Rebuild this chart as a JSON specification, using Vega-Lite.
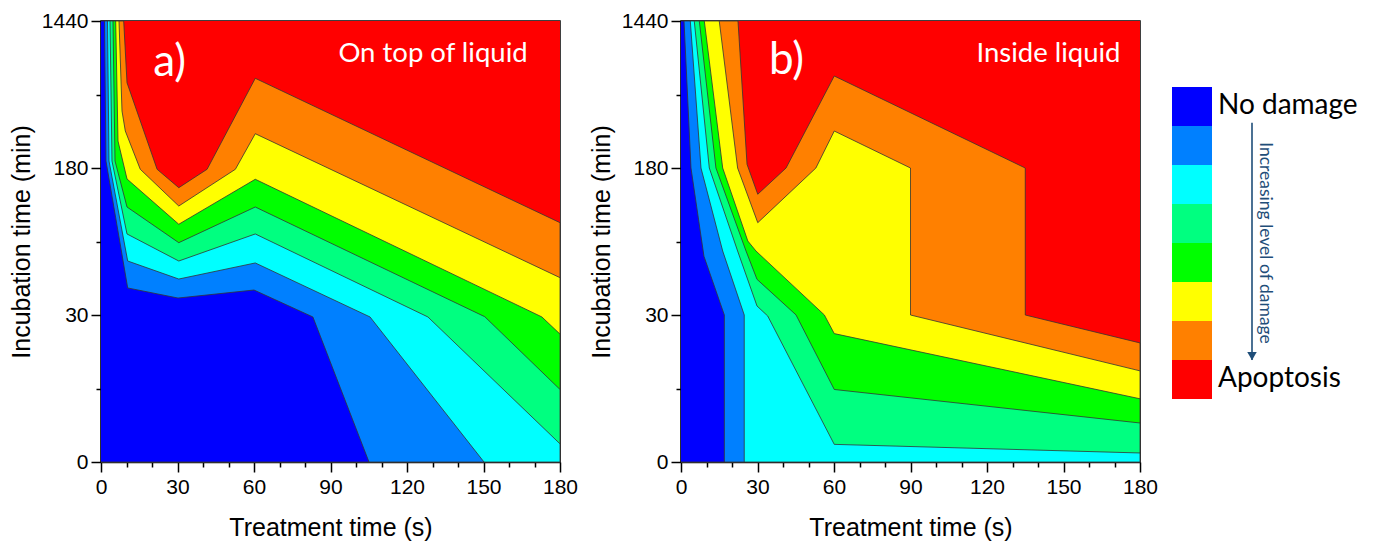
{
"$schema": "https://vega.github.io/schema/vega-lite/v6.json",
"background": "white",
"padding": {"left": 8, "top": 9, "right": 0, "bottom": 0},
"spacing": 9,
"datasets": {
"a": [
{"k":8,"i":0,"s":0,"v":1440},{"k":8,"i":1,"s":180,"v":1440},{"k":8,"i":2,"s":180,"v":0},{"k":8,"i":3,"s":0,"v":0},
{"k":7,"i":0,"s":0,"v":1440},{"k":7,"i":1,"s":8.9,"v":1440},{"k":7,"i":2,"s":10.2,"v":911},{"k":7,"i":3,"s":22,"v":178.7},{"k":7,"i":4,"s":30.5,"v":159.9},{"k":7,"i":5,"s":41.6,"v":178.7},{"k":7,"i":6,"s":60.5,"v":948.8},{"k":7,"i":7,"s":180,"v":124.2},{"k":7,"i":8,"s":180,"v":0},{"k":7,"i":9,"s":0,"v":0},
{"k":6,"i":0,"s":0,"v":1440},{"k":6,"i":1,"s":7.06,"v":1440},{"k":6,"i":2,"s":8.24,"v":668.6},{"k":6,"i":3,"s":9.53,"v":497.1},{"k":6,"i":4,"s":15.4,"v":178.7},{"k":6,"i":5,"s":30.5,"v":141.2},{"k":6,"i":6,"s":52.7,"v":178.7},{"k":6,"i":7,"s":60.5,"v":474},{"k":6,"i":8,"s":180,"v":68.1},{"k":6,"i":9,"s":180,"v":0},{"k":6,"i":10,"s":0,"v":0},
{"k":5,"i":0,"s":0,"v":1440},{"k":5,"i":1,"s":5.76,"v":1440},{"k":5,"i":2,"s":6.67,"v":411},{"k":5,"i":3,"s":10.2,"v":168.8},{"k":5,"i":4,"s":30.5,"v":122.6},{"k":5,"i":5,"s":60.5,"v":168.5},{"k":5,"i":6,"s":172.9,"v":29.6},{"k":5,"i":7,"s":180,"v":26.1},{"k":5,"i":8,"s":180,"v":0},{"k":5,"i":9,"s":0,"v":0},
{"k":4,"i":0,"s":0,"v":1440},{"k":4,"i":1,"s":4.7,"v":1440},{"k":4,"i":2,"s":5.5,"v":240},{"k":4,"i":3,"s":10.2,"v":140.2},{"k":4,"i":4,"s":30.5,"v":103.8},{"k":4,"i":5,"s":60.5,"v":140.2},{"k":4,"i":6,"s":150.5,"v":29.65},{"k":4,"i":7,"s":180,"v":14.8},{"k":4,"i":8,"s":180,"v":0},{"k":4,"i":9,"s":0,"v":0},
{"k":3,"i":0,"s":0,"v":1440},{"k":3,"i":1,"s":3.53,"v":1440},{"k":3,"i":2,"s":4.31,"v":240},{"k":3,"i":3,"s":10.2,"v":112.7},{"k":3,"i":4,"s":30.5,"v":85.1},{"k":3,"i":5,"s":60.5,"v":112.7},{"k":3,"i":6,"s":128.2,"v":29.6},{"k":3,"i":7,"s":180,"v":3.7},{"k":3,"i":8,"s":180,"v":0},{"k":3,"i":9,"s":0,"v":0},
{"k":2,"i":0,"s":0,"v":1440},{"k":2,"i":1,"s":2.55,"v":1440},{"k":2,"i":2,"s":3.14,"v":240},{"k":2,"i":3,"s":10.47,"v":85.1},{"k":2,"i":4,"s":30.5,"v":66.7},{"k":2,"i":5,"s":60.5,"v":83.1},{"k":2,"i":6,"s":105.5,"v":29.6},{"k":2,"i":7,"s":150.2,"v":0},{"k":2,"i":8,"s":0,"v":0},
{"k":1,"i":0,"s":0,"v":1440},{"k":1,"i":1,"s":1.37,"v":1440},{"k":1,"i":2,"s":1.96,"v":240},{"k":1,"i":3,"s":10.47,"v":57.6},{"k":1,"i":4,"s":30.2,"v":47.3},{"k":1,"i":5,"s":60,"v":55.5},{"k":1,"i":6,"s":83.1,"v":29.6},{"k":1,"i":7,"s":105.1,"v":0},{"k":1,"i":8,"s":0,"v":0}
],
"b": [
{"k":8,"i":0,"s":0,"v":1440},{"k":8,"i":1,"s":180,"v":1440},{"k":8,"i":2,"s":180,"v":0},{"k":8,"i":3,"s":0,"v":0},
{"k":7,"i":0,"s":0,"v":1440},{"k":7,"i":1,"s":22.35,"v":1440},{"k":7,"i":2,"s":25.9,"v":211.7},{"k":7,"i":3,"s":30.1,"v":153.2},{"k":7,"i":4,"s":41.2,"v":180},{"k":7,"i":5,"s":60.1,"v":968.6},{"k":7,"i":6,"s":135,"v":180},{"k":7,"i":7,"s":135,"v":30},{"k":7,"i":8,"s":180,"v":24.3},{"k":7,"i":9,"s":180,"v":0},{"k":7,"i":10,"s":0,"v":0},
{"k":6,"i":0,"s":0,"v":1440},{"k":6,"i":1,"s":15,"v":1440},{"k":6,"i":2,"s":22.2,"v":180},{"k":6,"i":3,"s":30.1,"v":124.2},{"k":6,"i":4,"s":52.9,"v":180},{"k":6,"i":5,"s":60.1,"v":497.1},{"k":6,"i":6,"s":90,"v":180},{"k":6,"i":7,"s":90,"v":30},{"k":6,"i":8,"s":180,"v":18.6},{"k":6,"i":9,"s":180,"v":0},{"k":6,"i":10,"s":0,"v":0},
{"k":5,"i":0,"s":0,"v":1440},{"k":5,"i":1,"s":9.14,"v":1440},{"k":5,"i":2,"s":16.35,"v":180},{"k":5,"i":3,"s":26.2,"v":105.5},{"k":5,"i":4,"s":29.4,"v":95.3},{"k":5,"i":5,"s":56.2,"v":30.1},{"k":5,"i":6,"s":60.1,"v":26.2},{"k":5,"i":7,"s":180,"v":12.9},{"k":5,"i":8,"s":180,"v":0},{"k":5,"i":9,"s":0,"v":0},
{"k":4,"i":0,"s":0,"v":1440},{"k":4,"i":1,"s":7.18,"v":1440},{"k":4,"i":2,"s":13.7,"v":180},{"k":4,"i":3,"s":25.5,"v":95.3},{"k":4,"i":4,"s":29.8,"v":66.4},{"k":4,"i":5,"s":45.1,"v":30.1},{"k":4,"i":6,"s":60.1,"v":14.8},{"k":4,"i":7,"s":180,"v":7.96},{"k":4,"i":8,"s":180,"v":0},{"k":4,"i":9,"s":0,"v":0},
{"k":3,"i":0,"s":0,"v":1440},{"k":3,"i":1,"s":5.2,"v":1440},{"k":3,"i":2,"s":11.1,"v":180},{"k":3,"i":3,"s":22.2,"v":95.3},{"k":3,"i":4,"s":29.8,"v":39.2},{"k":3,"i":5,"s":34,"v":29.8},{"k":3,"i":6,"s":60.1,"v":3.6},{"k":3,"i":7,"s":180,"v":1.84},{"k":3,"i":8,"s":180,"v":0},{"k":3,"i":9,"s":0,"v":0},
{"k":2,"i":0,"s":0,"v":1440},{"k":2,"i":1,"s":3.65,"v":1440},{"k":2,"i":2,"s":7.84,"v":180},{"k":2,"i":3,"s":16.35,"v":95.3},{"k":2,"i":4,"s":24.8,"v":30},{"k":2,"i":5,"s":24.8,"v":0},{"k":2,"i":6,"s":0,"v":0},
{"k":1,"i":0,"s":0,"v":1440},{"k":1,"i":1,"s":1.18,"v":1440},{"k":1,"i":2,"s":3.92,"v":180},{"k":1,"i":3,"s":9,"v":90},{"k":1,"i":4,"s":17,"v":30},{"k":1,"i":5,"s":17,"v":0},{"k":1,"i":6,"s":0,"v":0}
],
"leg": [
{"k":1,"lab":"No damage"},{"k":2,"lab":""},{"k":3,"lab":""},{"k":4,"lab":""},{"k":5,"lab":""},{"k":6,"lab":""},{"k":7,"lab":""},{"k":8,"lab":"Apoptosis"}
]
},
"hconcat": [
{
"width": 459, "height": 441,
"data": {"name": "a"},
"encoding": {
"x": {"field": "s", "type": "quantitative", "scale": {"domain": [0, 180], "nice": false, "zero": false},
"axis": {"values": [0,10,20,30,40,50,60,70,80,90,100,110,120,130,140,150,160,170,180], "labelExpr": "datum.value % 30 == 0 ? datum.label : ''", "tickSize": {"condition": {"test": "datum.value % 30 != 0", "value": 5}, "value": 10}, "title": "Treatment time (s)", "titlePadding": 18, "labelPadding": 4}},
"y": {"field": "v", "type": "quantitative", "scale": {"domain": [0, 30, 180, 1440], "range": [441, 294, 147, 0], "nice": false, "zero": false},
"axis": {"values": [0,15,30,105,180,810,1440], "format": "d", "labelExpr": "indexof([0,30,180,1440], datum.value) >= 0 ? datum.label : ''", "tickSize": {"condition": {"test": "indexof([15,105,810], datum.value) >= 0", "value": 5}, "value": 10}, "title": "Incubation time (min)", "titlePadding": 7, "labelPadding": 3}},
"order": {"field": "i", "type": "quantitative"}
},
"layer": [
{"transform": [{"filter": "datum.k == 8"}], "mark": {"type": "line", "fill": "#ff0000", "stroke": "#ff0000", "strokeWidth": 0}},
{"transform": [{"filter": "datum.k == 7"}], "mark": {"type": "line", "fill": "#ff8000", "stroke": "#333333", "strokeWidth": 0.8}},
{"transform": [{"filter": "datum.k == 6"}], "mark": {"type": "line", "fill": "#ffff00", "stroke": "#333333", "strokeWidth": 0.8}},
{"transform": [{"filter": "datum.k == 5"}], "mark": {"type": "line", "fill": "#00ff00", "stroke": "#333333", "strokeWidth": 0.8}},
{"transform": [{"filter": "datum.k == 4"}], "mark": {"type": "line", "fill": "#00ff80", "stroke": "#333333", "strokeWidth": 0.8}},
{"transform": [{"filter": "datum.k == 3"}], "mark": {"type": "line", "fill": "#00ffff", "stroke": "#333333", "strokeWidth": 0.8}},
{"transform": [{"filter": "datum.k == 2"}], "mark": {"type": "line", "fill": "#0080ff", "stroke": "#333333", "strokeWidth": 0.8}},
{"transform": [{"filter": "datum.k == 1"}], "mark": {"type": "line", "fill": "#0000ff", "stroke": "#333333", "strokeWidth": 0.8}},
{"data": {"values": [{"s": 26.9, "v": 1080, "t": "a)"}]}, "mark": {"type": "text", "color": "white", "font": "Lato", "fontSize": 44, "align": "center", "baseline": "middle"}, "encoding": {"text": {"field": "t"}}},
{"data": {"values": [{"s": 130.2, "v": 1157, "t": "On top of liquid"}]}, "mark": {"type": "text", "color": "white", "font": "Lato", "fontSize": 27.5, "align": "center", "baseline": "middle"}, "encoding": {"text": {"field": "t"}}}
]
},
{
"width": 459, "height": 441,
"data": {"name": "b"},
"encoding": {
"x": {"field": "s", "type": "quantitative", "scale": {"domain": [0, 180], "nice": false, "zero": false},
"axis": {"values": [0,10,20,30,40,50,60,70,80,90,100,110,120,130,140,150,160,170,180], "labelExpr": "datum.value % 30 == 0 ? datum.label : ''", "tickSize": {"condition": {"test": "datum.value % 30 != 0", "value": 5}, "value": 10}, "title": "Treatment time (s)", "titlePadding": 18, "labelPadding": 4}},
"y": {"field": "v", "type": "quantitative", "scale": {"domain": [0, 30, 180, 1440], "range": [441, 294, 147, 0], "nice": false, "zero": false},
"axis": {"values": [0,15,30,105,180,810,1440], "format": "d", "labelExpr": "indexof([0,30,180,1440], datum.value) >= 0 ? datum.label : ''", "tickSize": {"condition": {"test": "indexof([15,105,810], datum.value) >= 0", "value": 5}, "value": 10}, "title": "Incubation time (min)", "titlePadding": 7, "labelPadding": 3}},
"order": {"field": "i", "type": "quantitative"}
},
"layer": [
{"transform": [{"filter": "datum.k == 8"}], "mark": {"type": "line", "fill": "#ff0000", "stroke": "#ff0000", "strokeWidth": 0}},
{"transform": [{"filter": "datum.k == 7"}], "mark": {"type": "line", "fill": "#ff8000", "stroke": "#333333", "strokeWidth": 0.8}},
{"transform": [{"filter": "datum.k == 6"}], "mark": {"type": "line", "fill": "#ffff00", "stroke": "#333333", "strokeWidth": 0.8}},
{"transform": [{"filter": "datum.k == 5"}], "mark": {"type": "line", "fill": "#00ff00", "stroke": "#333333", "strokeWidth": 0.8}},
{"transform": [{"filter": "datum.k == 4"}], "mark": {"type": "line", "fill": "#00ff80", "stroke": "#333333", "strokeWidth": 0.8}},
{"transform": [{"filter": "datum.k == 3"}], "mark": {"type": "line", "fill": "#00ffff", "stroke": "#333333", "strokeWidth": 0.8}},
{"transform": [{"filter": "datum.k == 2"}], "mark": {"type": "line", "fill": "#0080ff", "stroke": "#333333", "strokeWidth": 0.8}},
{"transform": [{"filter": "datum.k == 1"}], "mark": {"type": "line", "fill": "#0000ff", "stroke": "#333333", "strokeWidth": 0.8}},
{"data": {"values": [{"s": 41.4, "v": 1097, "t": "b)"}]}, "mark": {"type": "text", "color": "white", "font": "Lato", "fontSize": 44, "align": "center", "baseline": "middle"}, "encoding": {"text": {"field": "t"}}},
{"data": {"values": [{"s": 144.1, "v": 1157, "t": "Inside liquid"}]}, "mark": {"type": "text", "color": "white", "font": "Lato", "fontSize": 27.5, "align": "center", "baseline": "middle"}, "encoding": {"text": {"field": "t"}}}
]
},
{
"width": 200, "height": 390,
"view": {"stroke": null},
"data": {"name": "leg"},
"layer": [
{"mark": {"type": "rect"},
"encoding": {
"y": {"field": "k", "type": "ordinal", "scale": {"paddingInner": 0, "paddingOuter": 1, "align": 0.846}, "axis": null},
"x": {"datum": 0, "type": "quantitative", "scale": {"domain": [-0.1, 4.9], "nice": false, "zero": false}, "axis": null},
"x2": {"datum": 1},
"color": {"field": "k", "type": "ordinal", "scale": {"domain": [1,2,3,4,5,6,7,8], "range": ["#0000ff","#0080ff","#00ffff","#00ff80","#00ff00","#ffff00","#ff8000","#ff0000"]}, "legend": null}
}},
{"transform": [{"filter": "datum.lab != ''"}], "mark": {"type": "text", "align": "left", "baseline": "middle", "font": "Lato", "fontSize": 28, "color": "black"},
"encoding": {
"y": {"field": "k", "type": "ordinal", "axis": null},
"x": {"datum": 1.15, "type": "quantitative", "axis": null},
"text": {"field": "lab"}
}},
{"data": {"values": [{}]}, "mark": {"type": "rule", "color": "#1f4e79", "strokeWidth": 1.6},
"encoding": {
"x": {"datum": 2, "type": "quantitative", "axis": null},
"y": {"datum": 1, "type": "ordinal", "bandPosition": 0.92, "axis": null},
"y2": {"datum": 7, "bandPosition": 1}
}},
{"data": {"values": [{}]}, "mark": {"type": "point", "shape": "triangle-down", "filled": true, "opacity": 1, "color": "#1f4e79", "size": 90},
"encoding": {
"x": {"datum": 2, "type": "quantitative", "axis": null},
"y": {"datum": 8, "type": "ordinal", "bandPosition": -0.1, "axis": null}
}},
{"data": {"values": [{}]}, "mark": {"type": "text", "angle": 90, "align": "center", "baseline": "middle", "font": "Lato", "fontSize": 17.5, "color": "#1f4e79", "text": "Increasing level of damage"},
"encoding": {
"x": {"datum": 2.33, "type": "quantitative", "axis": null},
"y": {"datum": 5, "type": "ordinal", "bandPosition": 0, "axis": null}
}}
]
}
],
"config": {
"view": {"stroke": "black", "strokeWidth": 1.5},
"axis": {"domainColor": "black", "domainWidth": 1.5, "tickColor": "black", "tickWidth": 1.5, "labelColor": "black", "titleColor": "black", "labelFont": "Liberation Sans", "titleFont": "Liberation Sans", "labelFontSize": 21, "titleFontSize": 25, "titleFontWeight": "normal", "grid": false, "labelOverlap": false, "labelFlush": false}
}
}
